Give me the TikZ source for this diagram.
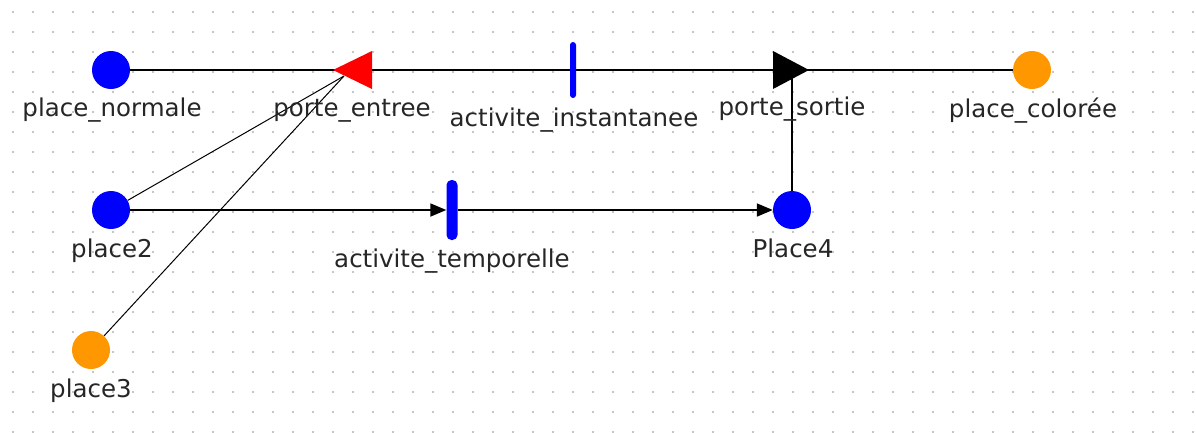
\documentclass[tikz,border=0pt]{standalone}
\usepackage{fontspec}
\newfontfamily\lblfont{DejaVu Sans}
\usetikzlibrary{arrows.meta}
\pgfdeclarelayer{grid}
\pgfdeclarelayer{bg}
\pgfsetlayers{grid,bg,main}
\definecolor{porange}{RGB}{255,152,0}
\definecolor{dotgray}{RGB}{140,140,140}
\begin{document}
\begin{tikzpicture}[x=1pt,y=-1pt,
  place/.style={circle,fill=#1,inner sep=0pt,minimum size=38pt},
  instbar/.style={rectangle,fill=blue,inner sep=0pt,rounded corners=3pt,minimum width=6pt,minimum height=56pt},
  tempbar/.style={rectangle,fill=blue,inner sep=0pt,rounded corners=5pt,minimum width=11pt,minimum height=60pt},
  lbl/.style={font=\lblfont\fontsize{24.5}{26}\selectfont,anchor=base,inner sep=0pt,text=black!85},
  conn/.style={line width=1.8pt,draw=black},
  thinconn/.style={line width=1pt,draw=black},
  arr/.style={conn,-{Triangle[length=16pt,width=13pt]}}]
\useasboundingbox (0,0) rectangle (1196,432);
% grid
\begin{pgfonlayer}{grid}
\fill[white] (0,0) rectangle (1196,432);
\foreach \i in {0,...,59}{
  \foreach \j in {0,...,21}{
    \fill[dotgray] ({13+20*\i},{12+20*\j}) circle (0.9pt);
  }
}
\end{pgfonlayer}
% nodes
\node[place=blue] (pn) at (111,70) {};
\node[place=porange] (pc) at (1032,70) {};
\node[place=blue] (p2) at (111,210) {};
\node[place=blue] (p4) at (792,210) {};
\node[place=porange] (p3) at (91,350) {};
\node[instbar] (ai) at (573,70) {};
\node[tempbar] (at) at (452,210) {};
\coordinate (pe) at (352,70);
\coordinate (pein) at (344,76);
\coordinate (ps) at (792,70);
% gates
\fill[red] (pe) ++(-19,0) -- ++(39,-19) -- ++(0,38) -- cycle;
\fill[black] (ps) ++(-19,-19) -- ++(0,38) -- ++(36,-19) -- cycle;
% labels
\node[lbl] (lpn) at (112,116) {place\_normale};
\node[lbl] (lpe) at (352,116) {porte\_entree};
\node[lbl] (lai) at (574,126) {activite\_instantanee};
\node[lbl] (lps) at (792,115) {porte\_sortie};
\node[lbl] (lpc) at (1033,117) {place\_colorée};
\node[lbl] (lp2) at (112,257) {place2};
\node[lbl] (lat) at (452,267) {activite\_temporelle};
\node[lbl] (lp4) at (793,257) {Place4};
\node[lbl] (lp3) at (91,397) {place3};
% connectors
\begin{pgfonlayer}{bg}
\draw[conn] (pn) -- (pe);
\draw[conn] (pe) -- (ai);
\draw[conn] (ai) -- (ps);
\draw[conn] (ps) -- (pc);
\draw[line width=1.6pt] (ps) -- (p4);
\draw[thinconn] (p2) -- (pein);
\draw[thinconn] (p3) -- (pein);
\draw[arr] (p2) -- (at);
\draw[arr] (at) -- (p4);
\end{pgfonlayer}
\end{tikzpicture}
\end{document}
